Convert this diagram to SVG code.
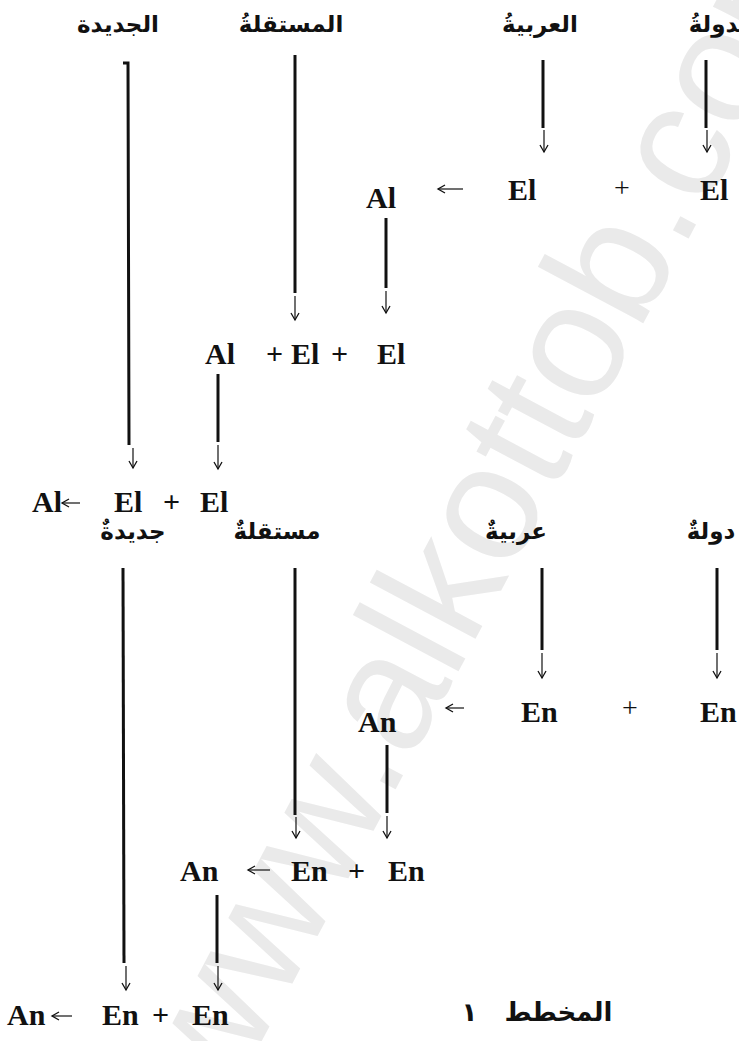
<svg xmlns="http://www.w3.org/2000/svg" width="739" height="1041" viewBox="0 0 739 1041">
<style>
.lat{font-family:"Liberation Serif","Times New Roman",serif;font-weight:bold;font-size:30px;fill:#111}
.pl{font-family:"Liberation Serif",serif;font-size:28px;fill:#111}
.ar{font-family:"DejaVu Sans",sans-serif;font-weight:bold;font-size:23px;fill:#111;text-anchor:middle}
.thick{stroke:#111;stroke-width:3;fill:none}
.thin{stroke:#111;stroke-width:1.2;fill:none}
.wm{font-family:"Liberation Sans",sans-serif;font-size:165px;fill:#eaeaea}
</style>
<defs>
<marker id="ah" markerUnits="userSpaceOnUse" markerWidth="12" markerHeight="12" refX="8" refY="5" orient="auto" viewBox="0 0 12 10">
<path d="M1,1 L8,5 L1,9" fill="none" stroke="#111" stroke-width="1.3"/>
</marker>
</defs>
<rect width="739" height="1041" fill="#fff"/>
<g id="watermark"><text class="wm" transform="translate(225,1110) rotate(-62)">www.alkottob.com</text></g>

<g id="labels-top">
<text class="ar" x="118" y="32">الجديدة</text>
<text class="ar" x="291" y="32">المستقلةُ</text>
<text class="ar" x="540" y="32">العربيةُ</text>
<text class="ar" x="722" y="32">الدولةُ</text>
</g>
<g id="row-a">
<text class="lat" x="366" y="208">Al</text>
<text class="lat" x="508" y="200">El</text>
<text class="pl" x="614" y="197">+</text>
<text class="lat" x="700" y="200">El</text>
</g>
<g id="row-b">
<text class="lat" x="205" y="364">Al</text>
<text class="lat" x="266" y="364">+</text>
<text class="lat" x="291" y="364">El</text>
<text class="lat" x="331" y="364">+</text>
<text class="lat" x="377" y="364">El</text>
</g>
<g id="row-c">
<text class="lat" x="32" y="512">Al</text>
<text class="lat" x="114" y="512">El</text>
<text class="lat" x="163" y="512">+</text>
<text class="lat" x="200" y="512">El</text>
</g>
<g id="labels-mid">
<text class="ar" x="133" y="539">جديدةٌ</text>
<text class="ar" x="277" y="539">مستقلةٌ</text>
<text class="ar" x="516" y="539">عربيةٌ</text>
<text class="ar" x="711" y="539">دولةٌ</text>
</g>
<g id="row-d">
<text class="lat" x="358" y="732">An</text>
<text class="lat" x="521" y="722">En</text>
<text class="pl" x="622" y="717">+</text>
<text class="lat" x="700" y="722">En</text>
</g>
<g id="row-e">
<text class="lat" x="180" y="881">An</text>
<text class="lat" x="291" y="881">En</text>
<text class="lat" x="348" y="881">+</text>
<text class="lat" x="388" y="881">En</text>
</g>
<g id="row-f">
<text class="lat" x="7" y="1025">An</text>
<text class="lat" x="102" y="1025">En</text>
<text class="lat" x="152" y="1025">+</text>
<text class="lat" x="192" y="1025">En</text>
</g>
<g id="caption">
<text class="ar" x="537" y="1021" style="font-size:26px;word-spacing:18px">المخطط ١</text>
</g>

<g id="connectors">
<polyline class="thick" points="123,63 128,63 129,445"/>
<line class="thin" x1="133" y1="448" x2="133" y2="468" marker-end="url(#ah)"/>
<line class="thick" x1="295" y1="55" x2="295" y2="293"/>
<line class="thin" x1="295" y1="296" x2="295" y2="320" marker-end="url(#ah)"/>
<line class="thick" x1="543" y1="60" x2="543" y2="128"/>
<line class="thin" x1="544" y1="130" x2="544" y2="152" marker-end="url(#ah)"/>
<line class="thick" x1="706" y1="60" x2="706" y2="128"/>
<line class="thin" x1="707" y1="130" x2="707" y2="152" marker-end="url(#ah)"/>
<line class="thin" x1="463" y1="189" x2="438" y2="189" marker-end="url(#ah)"/>
<line class="thick" x1="386" y1="218" x2="386" y2="288"/>
<line class="thin" x1="386" y1="291" x2="386" y2="313" marker-end="url(#ah)"/>
<line class="thick" x1="218" y1="374" x2="218" y2="442"/>
<line class="thin" x1="218" y1="445" x2="218" y2="469" marker-end="url(#ah)"/>
<line class="thin" x1="80" y1="503" x2="62" y2="503" marker-end="url(#ah)"/>
<line class="thick" x1="123" y1="568" x2="124" y2="963"/>
<line class="thin" x1="126" y1="966" x2="126" y2="990" marker-end="url(#ah)"/>
<line class="thick" x1="295" y1="568" x2="295" y2="815"/>
<line class="thin" x1="296" y1="817" x2="296" y2="838" marker-end="url(#ah)"/>
<line class="thick" x1="542" y1="568" x2="542" y2="650"/>
<line class="thin" x1="542" y1="653" x2="542" y2="678" marker-end="url(#ah)"/>
<line class="thick" x1="717" y1="568" x2="717" y2="650"/>
<line class="thin" x1="717" y1="653" x2="717" y2="678" marker-end="url(#ah)"/>
<line class="thin" x1="464" y1="708" x2="446" y2="708" marker-end="url(#ah)"/>
<line class="thick" x1="387" y1="745" x2="387" y2="813"/>
<line class="thin" x1="387" y1="816" x2="387" y2="838" marker-end="url(#ah)"/>
<line class="thin" x1="270" y1="870" x2="248" y2="870" marker-end="url(#ah)"/>
<line class="thick" x1="217" y1="895" x2="217" y2="963"/>
<line class="thin" x1="218" y1="966" x2="218" y2="990" marker-end="url(#ah)"/>
<line class="thin" x1="72" y1="1016" x2="52" y2="1016" marker-end="url(#ah)"/>
</g>
</svg>
